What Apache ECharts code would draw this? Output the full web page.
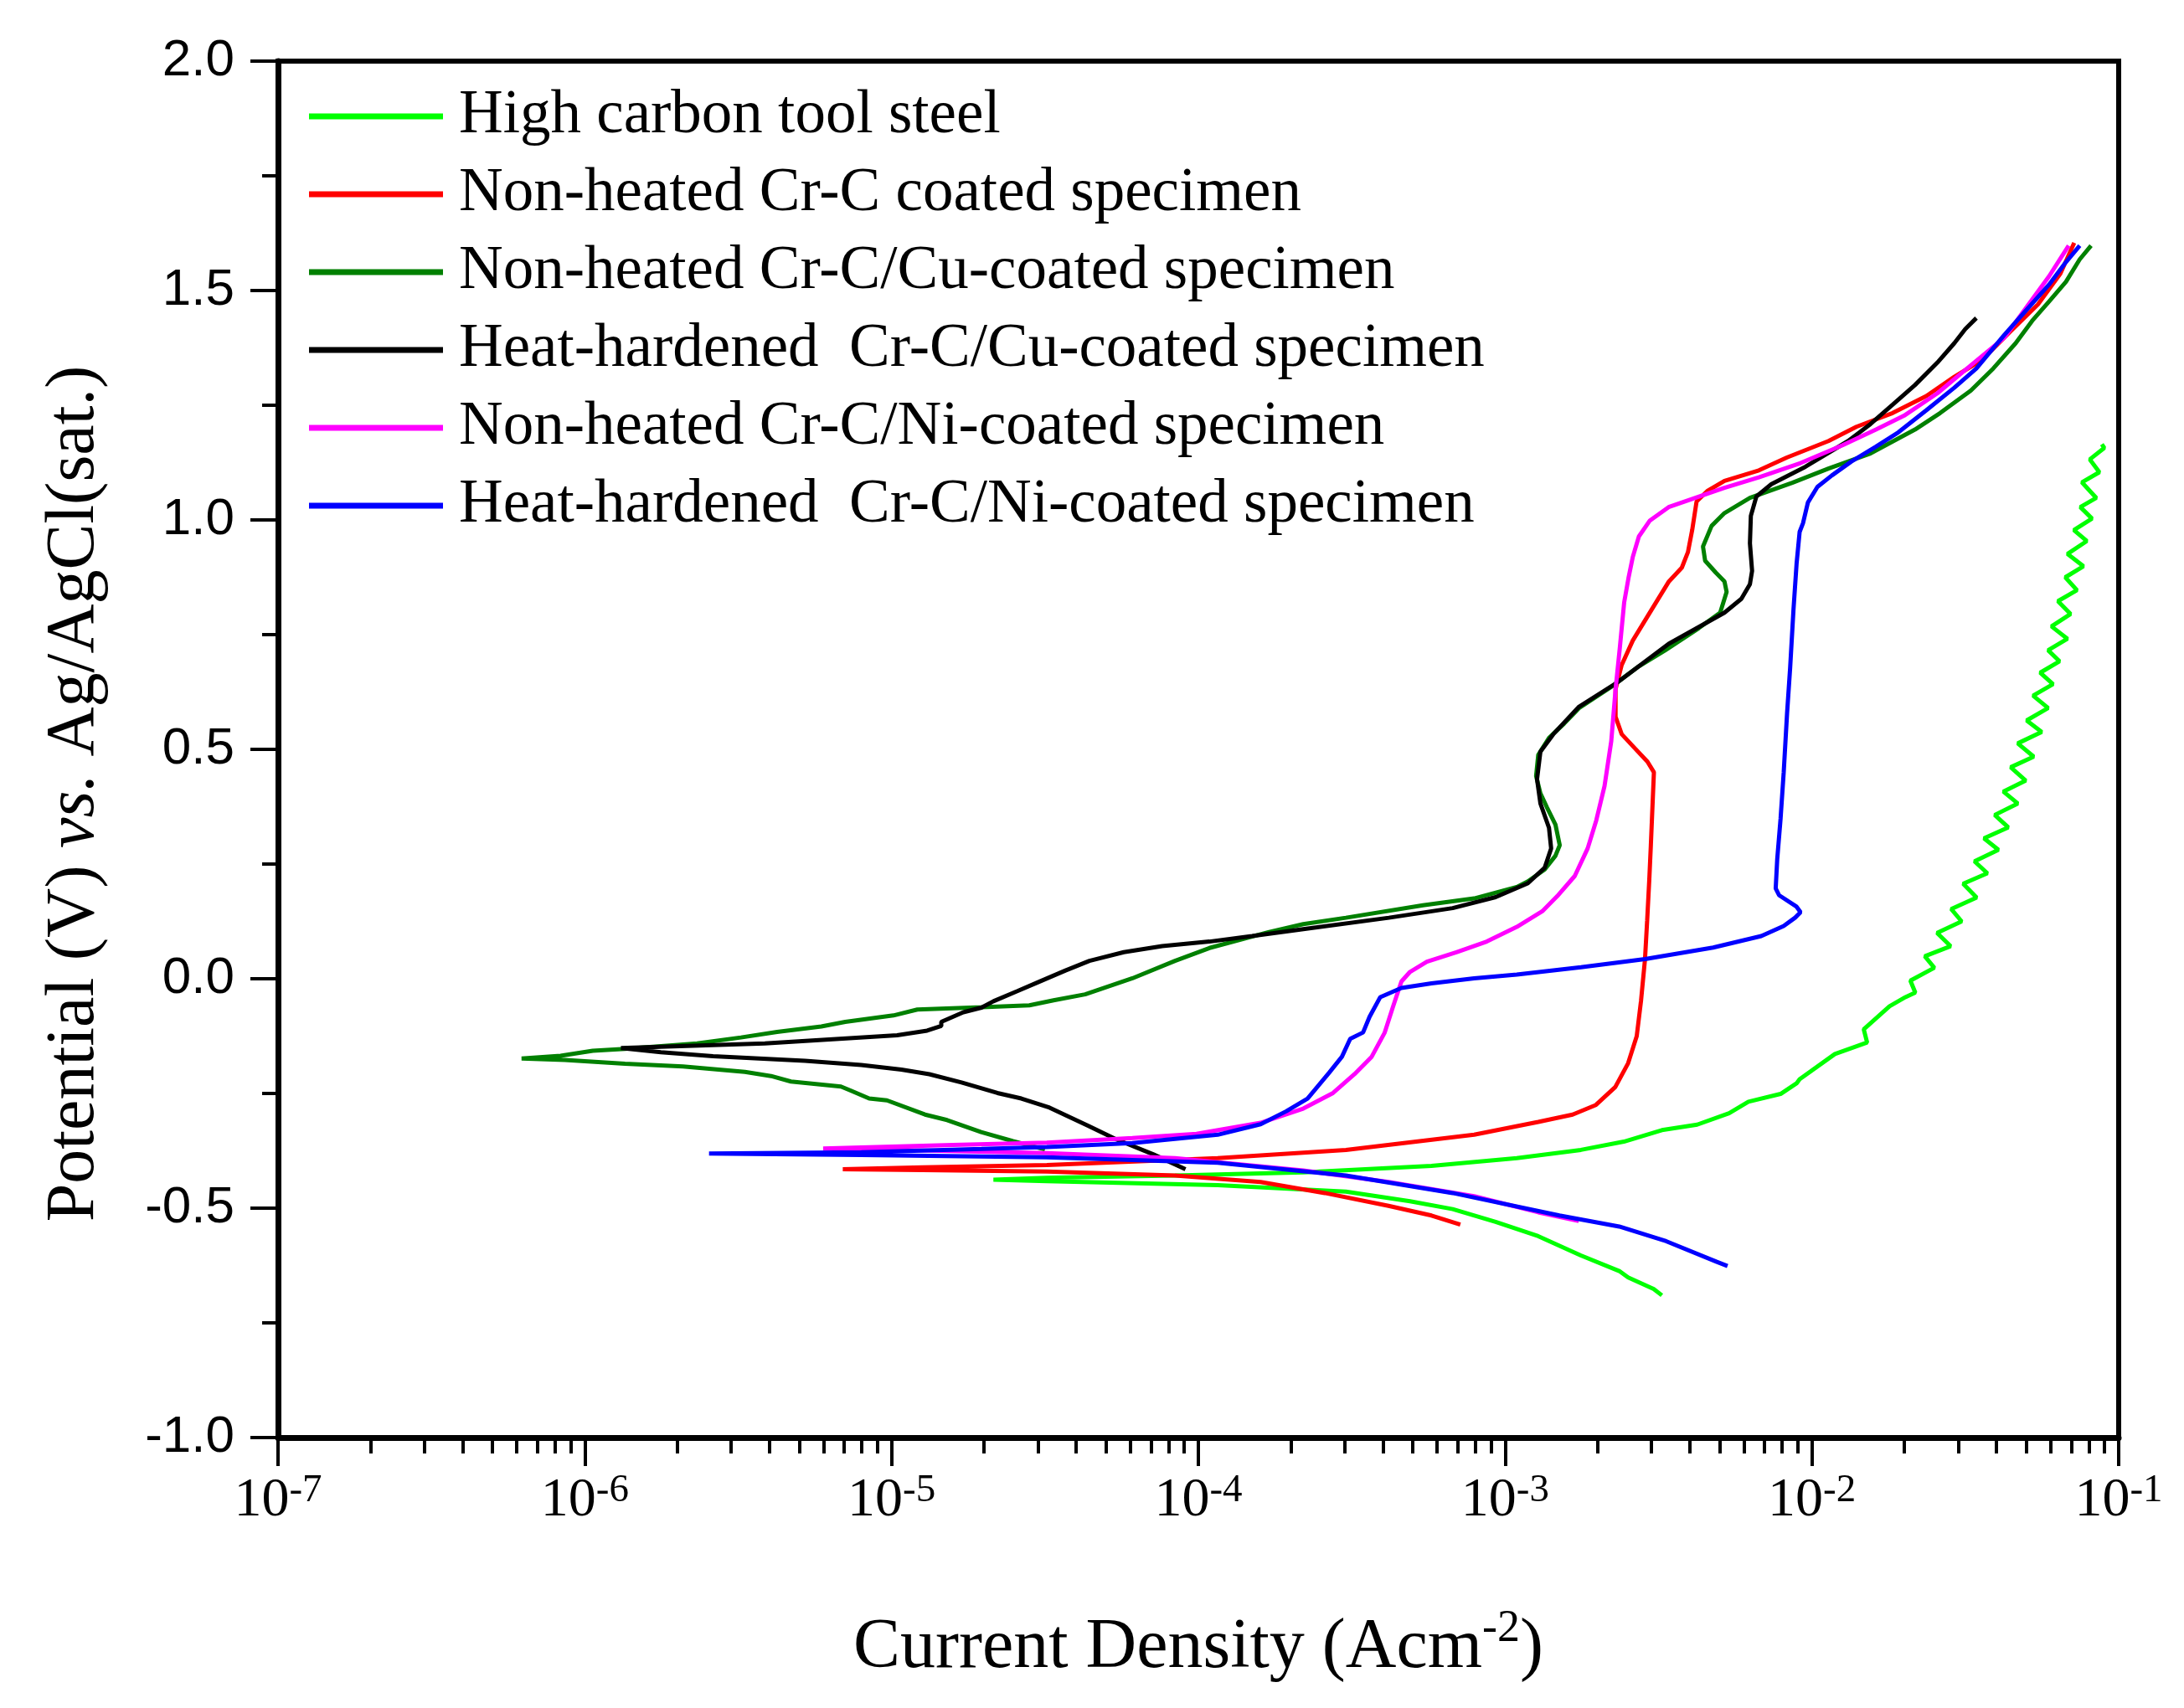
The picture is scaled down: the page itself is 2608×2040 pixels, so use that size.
<!DOCTYPE html>
<html>
<head>
<meta charset="utf-8">
<script src="https://cdn.jsdelivr.net/npm/echarts@6/dist/echarts.min.js"></script>
<style>
    html, body { margin: 0; padding: 0; background: #fff; }
    #chart { width: 2608px; height: 2040px; }
</style>
</head>
<body>
<div id="chart"></div>
<script>
// each point: [log10 of current density (A/cm2), potential (V vs Ag/AgCl)]
// traced from cathodic end -> corrosion potential -> anodic end
const steelData = [
    [-2.489, -0.690], [-2.516, -0.676], [-2.599, -0.651], [-2.628, -0.637], [-2.753, -0.603],
    [-2.892, -0.561], [-3.031, -0.530], [-3.171, -0.502], [-3.310, -0.485], [-3.519, -0.464],
    [-3.937, -0.450], [-4.494, -0.441], [-4.668, -0.438],
    [-4.494, -0.434], [-4.076, -0.429], [-3.658, -0.422], [-3.240, -0.408], [-2.962, -0.391],
    [-2.753, -0.373], [-2.613, -0.355], [-2.489, -0.330], [-2.374, -0.318], [-2.270, -0.293],
    [-2.207, -0.268], [-2.102, -0.251], [-2.050, -0.228], [-2.040, -0.219], [-1.925, -0.164],
    [-1.820, -0.139], [-1.831, -0.110], [-1.747, -0.060], [-1.695, -0.040], [-1.663, -0.030],
    [-1.679, -0.004], [-1.601, 0.024], [-1.632, 0.049], [-1.548, 0.071], [-1.592, 0.100],
    [-1.512, 0.125], [-1.546, 0.152], [-1.463, 0.177], [-1.507, 0.207], [-1.428, 0.230],
    [-1.470, 0.256], [-1.392, 0.281], [-1.439, 0.306], [-1.360, 0.330], [-1.404, 0.357],
    [-1.329, 0.382], [-1.376, 0.408], [-1.303, 0.432], [-1.352, 0.461], [-1.277, 0.484],
    [-1.329, 0.513], [-1.251, 0.538], [-1.300, 0.563], [-1.230, 0.590], [-1.279, 0.617],
    [-1.214, 0.642], [-1.256, 0.667], [-1.193, 0.692], [-1.230, 0.716], [-1.167, 0.741],
    [-1.219, 0.768], [-1.157, 0.795], [-1.198, 0.823], [-1.136, 0.847], [-1.174, 0.875],
    [-1.115, 0.899], [-1.167, 0.926], [-1.104, 0.954], [-1.146, 0.978], [-1.087, 1.003],
    [-1.125, 1.028], [-1.073, 1.048], [-1.120, 1.082], [-1.063, 1.104], [-1.094, 1.132],
    [-1.047, 1.157], [-1.055, 1.165]
];

const crcData = [
    [-3.146, -0.536], [-3.240, -0.516], [-3.380, -0.495], [-3.588, -0.467], [-3.797, -0.443],
    [-4.076, -0.429], [-4.494, -0.420], [-4.900, -0.417], [-5.159, -0.415],
    [-4.900, -0.411], [-4.494, -0.406], [-3.937, -0.391], [-3.519, -0.373], [-3.101, -0.340],
    [-2.892, -0.312], [-2.780, -0.296], [-2.704, -0.275], [-2.641, -0.236], [-2.599, -0.184],
    [-2.571, -0.125], [-2.557, -0.048], [-2.544, 0.043], [-2.537, 0.127], [-2.530, 0.217],
    [-2.525, 0.291], [-2.515, 0.450], [-2.536, 0.473], [-2.578, 0.503], [-2.620, 0.533],
    [-2.640, 0.571], [-2.640, 0.631], [-2.620, 0.684], [-2.584, 0.737], [-2.522, 0.805],
    [-2.466, 0.866], [-2.424, 0.896], [-2.404, 0.930], [-2.390, 0.979], [-2.376, 1.040],
    [-2.341, 1.063], [-2.285, 1.085], [-2.173, 1.108], [-2.082, 1.136], [-1.946, 1.172],
    [-1.855, 1.203], [-1.737, 1.233], [-1.627, 1.270], [-1.536, 1.312], [-1.445, 1.349],
    [-1.354, 1.410], [-1.263, 1.470], [-1.190, 1.537], [-1.145, 1.604]
];

const crcCuData = [
    [-4.500, -0.372], [-4.604, -0.354], [-4.708, -0.334], [-4.819, -0.308], [-4.891, -0.296],
    [-5.015, -0.265], [-5.073, -0.261], [-5.132, -0.244], [-5.165, -0.235], [-5.328, -0.224],
    [-5.393, -0.212], [-5.478, -0.203], [-5.680, -0.191], [-5.869, -0.185], [-6.065, -0.177],
    [-6.206, -0.174],
    [-6.079, -0.168], [-5.974, -0.157], [-5.869, -0.153], [-5.634, -0.141], [-5.491, -0.128],
    [-5.373, -0.116], [-5.229, -0.104], [-5.151, -0.094], [-4.994, -0.080], [-4.916, -0.067],
    [-4.707, -0.062], [-4.551, -0.058], [-4.472, -0.047], [-4.369, -0.034], [-4.215, 0.001],
    [-4.076, 0.039], [-3.964, 0.067], [-3.769, 0.102], [-3.658, 0.119], [-3.519, 0.133],
    [-3.268, 0.160], [-3.101, 0.175], [-2.962, 0.200], [-2.926, 0.212], [-2.871, 0.238],
    [-2.836, 0.268], [-2.822, 0.291], [-2.836, 0.336], [-2.864, 0.374], [-2.885, 0.404],
    [-2.899, 0.442], [-2.892, 0.488], [-2.857, 0.525], [-2.808, 0.556], [-2.759, 0.590],
    [-2.648, 0.639], [-2.564, 0.681], [-2.480, 0.715], [-2.369, 0.764], [-2.299, 0.798],
    [-2.278, 0.843], [-2.285, 0.866], [-2.313, 0.885], [-2.348, 0.911], [-2.355, 0.942],
    [-2.327, 0.987], [-2.285, 1.015], [-2.202, 1.048], [-2.064, 1.081], [-1.946, 1.112],
    [-1.809, 1.145], [-1.664, 1.197], [-1.582, 1.233], [-1.482, 1.282], [-1.409, 1.330],
    [-1.336, 1.385], [-1.282, 1.434], [-1.227, 1.476], [-1.172, 1.519], [-1.127, 1.568],
    [-1.090, 1.598]
];

const hhCuData = [
    [-4.042, -0.415], [-4.146, -0.383], [-4.271, -0.349], [-4.357, -0.321], [-4.485, -0.281],
    [-4.577, -0.261], [-4.655, -0.249], [-4.772, -0.226], [-4.877, -0.208], [-4.968, -0.198],
    [-5.099, -0.188], [-5.282, -0.179], [-5.582, -0.169], [-5.752, -0.160], [-5.882, -0.151],
    [-5.413, -0.141], [-4.982, -0.123], [-4.884, -0.113], [-4.838, -0.103], [-4.838, -0.094],
    [-4.766, -0.073], [-4.707, -0.063], [-4.668, -0.049], [-4.590, -0.027], [-4.524, -0.008],
    [-4.433, 0.018], [-4.355, 0.039], [-4.243, 0.058], [-4.118, 0.071], [-3.964, 0.081],
    [-3.825, 0.093], [-3.658, 0.108], [-3.379, 0.133], [-3.171, 0.154], [-3.031, 0.178],
    [-2.926, 0.208], [-2.871, 0.242], [-2.850, 0.284], [-2.857, 0.329], [-2.885, 0.382],
    [-2.896, 0.435], [-2.885, 0.495], [-2.843, 0.533], [-2.759, 0.593], [-2.634, 0.646],
    [-2.467, 0.730], [-2.285, 0.798], [-2.230, 0.828], [-2.202, 0.860], [-2.195, 0.889],
    [-2.202, 0.949], [-2.199, 1.009], [-2.181, 1.051], [-2.132, 1.078], [-2.021, 1.116],
    [-1.882, 1.172], [-1.809, 1.209], [-1.737, 1.251], [-1.664, 1.294], [-1.591, 1.343],
    [-1.536, 1.385], [-1.500, 1.416], [-1.464, 1.440]
];

const crcNiData = [
    [-2.760, -0.528], [-2.892, -0.509], [-3.101, -0.474], [-3.380, -0.443], [-3.658, -0.418],
    [-4.076, -0.391], [-4.494, -0.380], [-4.900, -0.374], [-5.223, -0.370],
    [-4.800, -0.362], [-4.494, -0.357], [-4.215, -0.347], [-4.006, -0.338], [-3.797, -0.314],
    [-3.658, -0.283], [-3.561, -0.249], [-3.491, -0.208], [-3.435, -0.170], [-3.393, -0.118],
    [-3.366, -0.062], [-3.338, -0.006], [-3.310, 0.015], [-3.255, 0.037], [-3.157, 0.058],
    [-3.060, 0.081], [-2.962, 0.113], [-2.879, 0.147], [-2.830, 0.180], [-2.773, 0.224],
    [-2.731, 0.284], [-2.703, 0.345], [-2.676, 0.420], [-2.654, 0.518], [-2.640, 0.631],
    [-2.626, 0.722], [-2.612, 0.820], [-2.598, 0.873], [-2.584, 0.919], [-2.564, 0.964],
    [-2.529, 0.998], [-2.467, 1.028], [-2.285, 1.070], [-2.173, 1.093], [-2.037, 1.124],
    [-1.900, 1.163], [-1.791, 1.197], [-1.700, 1.227], [-1.591, 1.276], [-1.482, 1.337],
    [-1.373, 1.397], [-1.300, 1.464], [-1.227, 1.531], [-1.163, 1.598]
];

const hhNiData = [
    [-2.275, -0.626], [-2.310, -0.617], [-2.475, -0.572], [-2.628, -0.540], [-2.823, -0.516],
    [-3.171, -0.467], [-3.519, -0.429], [-3.937, -0.401], [-4.494, -0.389], [-5.100, -0.384],
    [-5.595, -0.381],
    [-5.099, -0.378], [-4.707, -0.371], [-4.494, -0.367], [-4.215, -0.358], [-3.937, -0.340],
    [-3.797, -0.317], [-3.714, -0.289], [-3.644, -0.261], [-3.574, -0.205], [-3.532, -0.170],
    [-3.505, -0.131], [-3.463, -0.117], [-3.442, -0.083], [-3.407, -0.040], [-3.338, -0.020],
    [-3.240, -0.010], [-3.101, 0.001], [-2.962, 0.009], [-2.753, 0.025], [-2.544, 0.043],
    [-2.322, 0.068], [-2.165, 0.093], [-2.092, 0.115], [-2.055, 0.133], [-2.037, 0.145],
    [-2.050, 0.157], [-2.107, 0.182], [-2.118, 0.197], [-2.113, 0.261], [-2.102, 0.350],
    [-2.092, 0.449], [-2.081, 0.578], [-2.071, 0.677], [-2.060, 0.805], [-2.050, 0.904],
    [-2.040, 0.974], [-2.029, 0.993], [-2.013, 1.038], [-1.982, 1.072], [-1.935, 1.097],
    [-1.872, 1.127], [-1.791, 1.160], [-1.718, 1.191], [-1.627, 1.239], [-1.536, 1.288],
    [-1.464, 1.330], [-1.373, 1.403], [-1.300, 1.458], [-1.227, 1.513], [-1.172, 1.562],
    [-1.127, 1.598]
];

const seriesNames = [
    "High carbon tool steel",
    "Non-heated Cr-C coated specimen",
    "Non-heated Cr-C/Cu-coated specimen",
    "Heat-hardened  Cr-C/Cu-coated specimen",
    "Non-heated Cr-C/Ni-coated specimen",
    "Heat-hardened  Cr-C/Ni-coated specimen"
];
const seriesColors = ["#00ff00", "#ff0000", "#008000", "#000000", "#ff00ff", "#0000ff"];
const seriesData = [steelData, crcData, crcCuData, hhCuData, crcNiData, hhNiData];

// minor tick positions (2..9 within each decade), in log10 space
const minorTicks = [];
for (let n = -7; n < -1; n++) {
    for (let k = 2; k <= 9; k++) {
        minorTicks.push(n + Math.log10(k));
    }
}

const serif = "Liberation Serif";
const gridBox = { left: 332, right: 78, top: 73, bottom: 323 };
const chart = echarts.init(document.getElementById("chart"));

chart.setOption({
    animation: false,
    backgroundColor: "#fff",
    grid: [
        Object.assign({ show: true, borderColor: "#000", borderWidth: 6 }, gridBox),
        Object.assign({ show: false }, gridBox)
    ],
    legend: {
        data: seriesNames,
        orient: "vertical",
        left: 364,
        top: 94,
        icon: "rect",
        itemWidth: 160,
        itemHeight: 7,
        itemGap: 13,
        textStyle: {
            fontFamily: serif,
            fontSize: 73,
            lineHeight: 80,
            color: "#000",
            padding: [0, 0, 0, 14]
        }
    },
    xAxis: [
        {
            type: "log",
            gridIndex: 0,
            logBase: 10,
            min: 1e-7,
            max: 1e-1,
            position: "bottom",
            name: "{n|Current Density (Acm}{s|-2}{n|)}",
            nameLocation: "middle",
            nameGap: 202,
            nameTextStyle: {
                rich: {
                    n: { fontFamily: serif, fontSize: 84, color: "#000", lineHeight: 100 },
                    s: { fontFamily: serif, fontSize: 54, color: "#000", verticalAlign: "top", lineHeight: 60 }
                }
            },
            axisLine: { show: true, onZero: false, lineStyle: { color: "#000", width: 7 } },
            axisTick: { show: true, length: 34, lineStyle: { color: "#000", width: 4 } },
            minorTick: { show: false },
            splitLine: { show: false },
            axisLabel: {
                margin: 40,
                formatter: function (v) {
                    return "{b|10}{s|" + Math.round(Math.log10(v)) + "}";
                },
                rich: {
                    b: { fontFamily: serif, fontSize: 66, color: "#000", lineHeight: 72 },
                    s: { fontFamily: serif, fontSize: 47, color: "#000", verticalAlign: "top", lineHeight: 50 }
                }
            }
        },
        {
            // second grid, same box: only carries the minor decade ticks
            type: "value",
            gridIndex: 1,
            min: -7,
            max: -1,
            position: "bottom",
            axisLine: { show: false, onZero: false },
            axisLabel: { show: false },
            splitLine: { show: false },
            axisTick: {
                show: true,
                customValues: minorTicks,
                length: 19,
                lineStyle: { color: "#000", width: 4 }
            }
        }
    ],
    yAxis: [
        {
            type: "value",
            gridIndex: 0,
            min: -1,
            max: 2,
            interval: 0.5,
            name: "{n|Potential (V) }{i|vs.}{n| Ag/AgCl(sat.)}",
            nameLocation: "middle",
            nameGap: 202,
            nameRotate: 90,
            nameTextStyle: {
                padding: [0, 106, 0, 0],
                rich: {
                    n: { fontFamily: serif, fontSize: 82, color: "#000" },
                    i: { fontFamily: serif, fontSize: 82, color: "#000", fontStyle: "italic" }
                }
            },
            axisLine: { show: true, onZero: false, lineStyle: { color: "#000", width: 7 } },
            axisTick: { show: true, length: 33, lineStyle: { color: "#000", width: 4 } },
            minorTick: { show: true, splitNumber: 2, length: 19, lineStyle: { color: "#000", width: 4 } },
            splitLine: { show: false },
            axisLabel: {
                margin: 52,
                fontFamily: "Liberation Sans",
                fontSize: 62,
                color: "#000",
                formatter: function (v) {
                    return v.toFixed(1);
                }
            }
        },
        {
            type: "value",
            gridIndex: 1,
            min: -1,
            max: 2,
            show: false
        }
    ],
    series: seriesNames.map(function (name, i) {
        return {
            name: name,
            type: "line",
            xAxisIndex: 0,
            yAxisIndex: 0,
            showSymbol: false,
            symbol: "none",
            smooth: false,
            color: seriesColors[i],
            lineStyle: { color: seriesColors[i], width: 5 },
            data: seriesData[i].map(function (p) {
                return [Math.pow(10, p[0]), p[1]];
            })
        };
    })
});
</script>
</body>
</html>
